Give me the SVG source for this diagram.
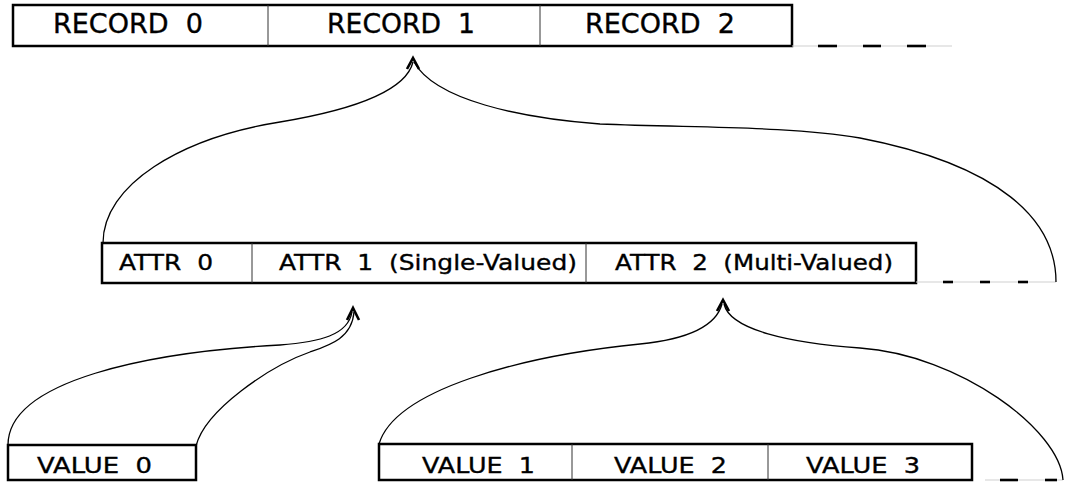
<svg xmlns="http://www.w3.org/2000/svg" width="1079" height="483" viewBox="0 0 1079 483">
<style>
.box{fill:#fff;stroke:#000;stroke-width:2.5}
.div{stroke:#333;stroke-width:1}
.t{font-family:"DejaVu Sans","Liberation Sans",sans-serif;fill:#000;stroke:#000;stroke-width:0.35;white-space:pre}
.r{font-size:26px}
.a{font-size:21px}
.v{font-size:22px}
.cur{fill:none;stroke:#000;stroke-width:1.3}
.head{fill:none;stroke:#000;stroke-width:2.6;stroke-linejoin:miter}
.base{stroke:#d0d0d0;stroke-width:1.2}
.dash{stroke:#000;stroke-width:2.6}
</style>
<g id="records">
<rect class="box" x="13" y="5" width="779" height="41"/>
<line class="div" x1="268" y1="5" x2="268" y2="46"/>
<line class="div" x1="540" y1="5" x2="540" y2="46"/>
<text class="t r" x="53" y="33" textLength="150" lengthAdjust="spacingAndGlyphs" xml:space="preserve">RECORD  0</text>
<text class="t r" x="327" y="33" textLength="148" lengthAdjust="spacingAndGlyphs" xml:space="preserve">RECORD  1</text>
<text class="t r" x="585" y="33" textLength="150" lengthAdjust="spacingAndGlyphs" xml:space="preserve">RECORD  2</text>
<line class="base" x1="792" y1="46" x2="952" y2="46"/>
<line class="dash" x1="818" y1="46" x2="837" y2="46"/>
<line class="dash" x1="863" y1="46" x2="881" y2="46"/>
<line class="dash" x1="907" y1="46" x2="926" y2="46"/>
</g>
<g id="attrs">
<rect class="box" x="102" y="243" width="814" height="40"/>
<line class="div" x1="252" y1="243" x2="252" y2="283"/>
<line class="div" x1="586" y1="243" x2="586" y2="283"/>
<text class="t a" x="119" y="270" textLength="94" lengthAdjust="spacingAndGlyphs" xml:space="preserve">ATTR  0</text>
<text class="t a" x="279" y="270" textLength="298" lengthAdjust="spacingAndGlyphs" xml:space="preserve">ATTR  1  (Single-Valued)</text>
<text class="t a" x="615" y="270" textLength="278" lengthAdjust="spacingAndGlyphs" xml:space="preserve">ATTR  2  (Multi-Valued)</text>
<line class="base" x1="916" y1="282" x2="1056" y2="282"/>
<line class="dash" x1="943" y1="282" x2="953" y2="282"/>
<line class="dash" x1="980" y1="282" x2="990" y2="282"/>
<line class="dash" x1="1018" y1="282" x2="1028" y2="282"/>
</g>
<g id="value0">
<rect class="box" x="8" y="445" width="188" height="35"/>
<text class="t v" x="37" y="473" textLength="115" lengthAdjust="spacingAndGlyphs" xml:space="preserve">VALUE  0</text>
</g>
<g id="values">
<rect class="box" x="379" y="444" width="593" height="36"/>
<line class="div" x1="572" y1="444" x2="572" y2="480"/>
<line class="div" x1="768" y1="444" x2="768" y2="480"/>
<text class="t v" x="422" y="473" textLength="113" lengthAdjust="spacingAndGlyphs" xml:space="preserve">VALUE  1</text>
<text class="t v" x="614" y="473" textLength="113" lengthAdjust="spacingAndGlyphs" xml:space="preserve">VALUE  2</text>
<text class="t v" x="806" y="473" textLength="114" lengthAdjust="spacingAndGlyphs" xml:space="preserve">VALUE  3</text>
<line class="base" x1="985" y1="480" x2="1063" y2="480"/>
<line class="dash" x1="1000" y1="480" x2="1018" y2="480"/>
<line class="dash" x1="1045" y1="480" x2="1057" y2="480"/>
</g>
<g id="connectors">
<path class="cur" d="M413,62 C405,95 340,112 280,122 C180,138 103,185 103,243"/>
<path class="cur" d="M414,62 C435,100 520,118 600,124 C700,128 790,126 860,138 C1000,165 1056,220 1056,282"/>
<polyline class="head" points="407,69 413,58 419,69"/>
<path class="cur" d="M352,312 C348,335 320,342 280,345 C150,352 8,380 8,445"/>
<path class="cur" d="M354,312 C352,338 330,345 310,352 C270,366 205,410 196,446"/>
<polyline class="head" points="347,320 353,308 359,320"/>
<path class="cur" d="M722,304 C715,330 680,340 640,344 C520,356 395,390 379,444"/>
<path class="cur" d="M724,304 C730,330 790,343 860,348 C960,355 1060,430 1063,480"/>
<polyline class="head" points="717,311 723,300 729,311"/>
</g>
</svg>
